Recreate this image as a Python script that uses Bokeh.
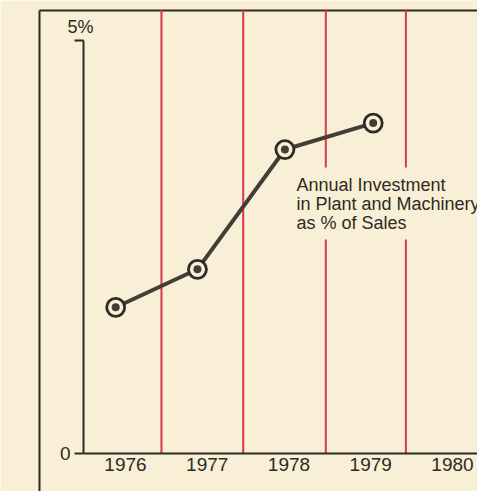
from bokeh.plotting import figure
from bokeh.models import Range1d, LinearAxis, FixedTicker, Label
from bokeh.core.properties import value
from bokeh.embed import file_html
from bokeh.resources import INLINE

# ---- data ----
years = [1976, 1977, 1978, 1979, 1980]
year_labels = ["1976", "1977", "1978", "1979", "1980"]
point_x = [1975.88, 1976.88, 1977.95, 1979.03]
invest_pct = [1.77, 2.23, 3.68, 4.00]
dividers = [1976.44, 1977.44, 1978.45, 1979.43]
y_ticks = [0, 5]
y_tick_labels = {0: "0", 5: ""}
annotation = "Annual Investment\nin Plant and Machinery\nas % of Sales"

BG = "#f8efd6"
INK = "#2e2a25"
LINE = "#433e35"
RED = "#d8364a"
FONT = "Liberation Sans"

x_axis_pos = 1975.486
frame_left = 1974.948
frame_top = 5.363

p = figure(width=477, height=491, output_backend="svg", toolbar_location=None,
           x_range=Range1d(1974.4709, 1980.3058), y_range=Range1d(-0.4600, 5.4843),
           x_axis_type=None, y_axis_type=None, min_border=0,
           background_fill_color=BG, border_fill_color=BG, outline_line_color=None)
p.xgrid.visible = False
p.ygrid.visible = False

# outer frame
p.segment(x0=[frame_left, frame_left], y0=[frame_top, frame_top],
          x1=[frame_left, 1981], y1=[-1, frame_top], line_color=INK, line_width=2)

# red year dividers
p.segment(x0=dividers, y0=[0] * len(dividers), x1=dividers, y1=[frame_top] * len(dividers),
          line_color=RED, line_width=2)

# axes
yax = LinearAxis(fixed_location=x_axis_pos, ticker=FixedTicker(ticks=y_ticks),
                 major_label_overrides=y_tick_labels, bounds=(0, 5),
                 major_tick_out=9, major_tick_in=0, minor_tick_out=0, minor_tick_in=0,
                 axis_line_width=2, axis_line_color=INK, major_tick_line_width=2,
                 major_tick_line_color=INK, major_label_text_font=FONT,
                 major_label_text_font_size="19px", major_label_text_color=INK,
                 major_label_standoff=4)
p.add_layout(yax, "left")

xax = LinearAxis(fixed_location=0, ticker=FixedTicker(ticks=years),
                 major_label_overrides={y: s for y, s in zip(years, year_labels)},
                 bounds=(x_axis_pos, 1981), major_tick_out=0, major_tick_in=0,
                 minor_tick_out=0, minor_tick_in=0, axis_line_width=2, axis_line_color=INK,
                 major_label_text_font=FONT, major_label_text_font_size="19px",
                 major_label_text_color=INK, major_label_standoff=4)
p.add_layout(xax, "below")

p.text(x=[x_axis_pos], y=[5], text=["5%"], text_font=value(FONT), text_font_size="18px",
       text_color=INK, text_align="center", text_baseline="bottom", x_offset=-3, y_offset=-4)

# annotation with background box
p.add_layout(Label(x=1978.006, y=3.462, text=annotation, text_font=FONT,
                   text_font_size="18px", text_color=INK, text_align="left",
                   text_baseline="top", text_line_height=0.95,
                   background_fill_color=BG, padding=7))

# series
p.line(point_x, invest_pct, line_color=LINE, line_width=4)
p.scatter(point_x, invest_pct, marker="circle", size=18, fill_color=BG,
          line_color=INK, line_width=2.8)
p.scatter(point_x, invest_pct, marker="circle", size=8, fill_color=LINE, line_color=None)

open("out.html", "w").write(file_html(p, INLINE))
